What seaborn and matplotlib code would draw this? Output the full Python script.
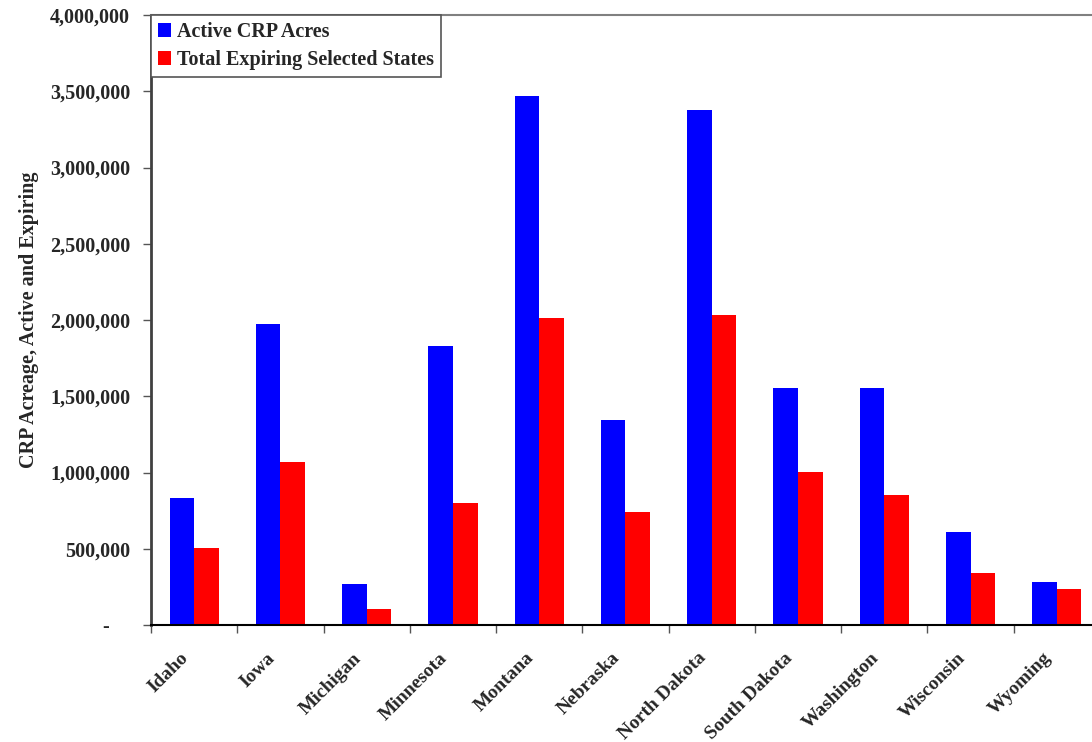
import numpy as np
import pandas as pd
import matplotlib
matplotlib.use("Agg")
import matplotlib.pyplot as plt
from matplotlib.ticker import FuncFormatter
from matplotlib.transforms import ScaledTranslation
import seaborn as sns

states = ["Idaho", "Iowa", "Michigan", "Minnesota", "Montana", "Nebraska",
          "North Dakota", "South Dakota", "Washington", "Wisconsin", "Wyoming"]
active_acres = [833000, 1974000, 269000, 1830000, 3469000, 1344000,
                3377000, 1554000, 1554000, 610000, 282000]
expiring_acres = [505000, 1069000, 105000, 800000, 2013000, 741000,
                  2033000, 1003000, 852000, 341000, 236000]
series_names = ["Active CRP Acres", "Total Expiring Selected States"]

df = pd.DataFrame({
    "State": states * 2,
    "Acres": active_acres + expiring_acres,
    "Series": [series_names[0]] * len(states) + [series_names[1]] * len(states),
})

sns.set_theme(style="ticks")
plt.rcParams["font.family"] = ["Liberation Serif", "DejaVu Serif"]
plt.rcParams["font.weight"] = "bold"

fig = plt.figure(figsize=(10.92, 7.42), dpi=100)
ax = fig.add_axes([0.1383, 0.1577, 0.869, 0.822])

sns.barplot(data=df, x="State", y="Acres", hue="Series", order=states,
            palette=["#0000FF", "#FF0000"], saturation=1, width=0.57,
            errorbar=None, linewidth=0, edgecolor="none", ax=ax)

ax.set_xlim(-0.5, len(states) - 0.5)
ax.set_ylim(0, 4000000)
ax.set_yticks(np.arange(0, 4000001, 500000))
ax.yaxis.set_major_formatter(FuncFormatter(lambda v, p: "-    " if v == 0 else f"{v:,.0f}"))

# ticks between categories, labels at the centres
ax.set_xticks(np.arange(-0.5, len(states), 1), minor=True)
ax.tick_params(axis="x", which="major", length=0, pad=22)
ax.tick_params(axis="x", which="minor", length=6, width=1, color="#555555")
ax.tick_params(axis="y", which="major", length=6, width=1, color="#555555", pad=9)
shift = ScaledTranslation(-8 / 100, 0, fig.dpi_scale_trans)
for lbl in ax.get_xticklabels():
    lbl.set_rotation(45)
    lbl.set_ha("right")
    lbl.set_rotation_mode("anchor")
    lbl.set_va("center")
    lbl.set_transform(lbl.get_transform() + shift)
    lbl.set_fontsize(14)
    lbl.set_fontweight("bold")
for lbl in ax.get_yticklabels():
    lbl.set_fontsize(14.5)
    lbl.set_fontweight("bold")

ax.set_xlabel("")
ax.set_ylabel("CRP Acreage, Active and Expiring", fontsize=14.5, fontweight="bold", labelpad=8)

ax.spines["top"].set_color("#808080")
ax.spines["top"].set_linewidth(1.5)
ax.spines["left"].set_color("#404040")
ax.spines["left"].set_linewidth(2)
ax.spines["bottom"].set_color("black")
ax.spines["bottom"].set_linewidth(1.5)
ax.spines["right"].set_visible(False)

leg = ax.legend(loc="upper left", borderaxespad=0, fancybox=False, framealpha=1,
                edgecolor="#555555", prop={"size": 14.5, "weight": "bold"},
                handlelength=0.65, handleheight=0.65, handletextpad=0.3,
                borderpad=0.35, labelspacing=0.4)
leg.get_frame().set_linewidth(1.2)

fig.savefig("out.png", dpi=100, facecolor="white")
